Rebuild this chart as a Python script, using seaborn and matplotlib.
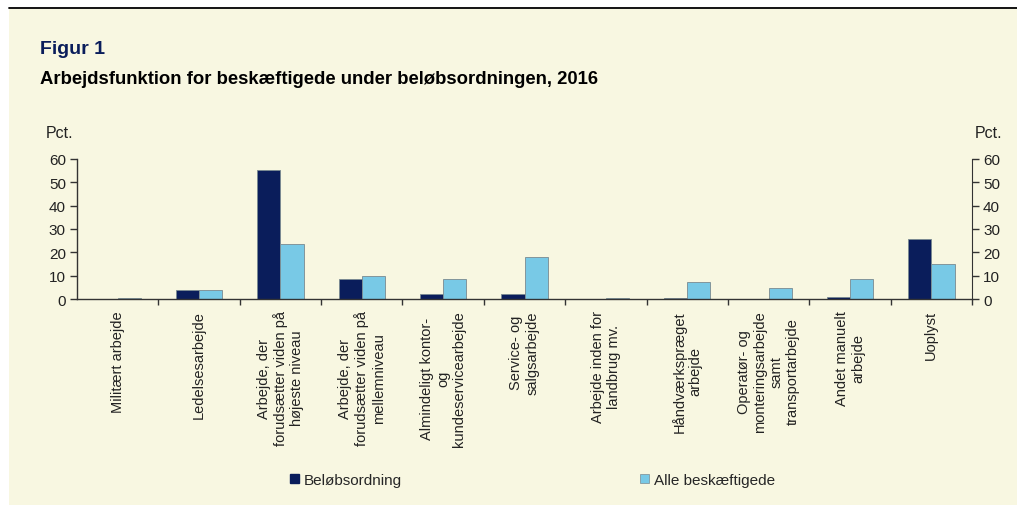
import matplotlib
matplotlib.use("Agg")
import matplotlib.pyplot as plt
import matplotlib.patches as mpatches
import pandas as pd
import seaborn as sns

categories = [
    "Militært arbejde",
    "Ledelsesarbejde",
    "Arbejde, der\nforudsætter viden på\nhøjeste niveau",
    "Arbejde, der\nforudsætter viden på\nmellemniveau",
    "Almindeligt kontor-\nog\nkundeservicearbejde",
    "Service- og\nsalgsarbejde",
    "Arbejde inden for\nlandbrug mv.",
    "Håndværkspræget\narbejde",
    "Operatør- og\nmonteringsarbejde\nsamt\ntransportarbejde",
    "Andet manuelt\narbejde",
    "Uoplyst",
]
belob = [0.0, 4.0, 55.3, 8.4, 2.0, 2.0, 0.0, 0.6, 0.0, 1.0, 25.7]
alle = [0.5, 3.9, 23.6, 9.7, 8.5, 18.0, 0.4, 7.3, 4.9, 8.7, 14.8]
series = ["Beløbsordning", "Alle beskæftigede"]
yticks = [0, 10, 20, 30, 40, 50, 60]

cream = "#F8F7E1"
navy = "#0A1D5B"
lightblue = "#78C9E6"

df = pd.DataFrame({
    "kategori": categories * 2,
    "pct": belob + alle,
    "serie": [series[0]] * len(categories) + [series[1]] * len(categories),
})

sns.set_style("white")
plt.rcParams["font.family"] = ["Liberation Sans", "DejaVu Sans"]

fig = plt.figure(figsize=(10.17, 5.06), dpi=100)
fig.patch.set_facecolor("white")

# cream panel and black rule on top
fig.patches.append(mpatches.Rectangle((9 / 1017, 0), 1 - 9 / 1017, 1 - 10 / 506,
                                      transform=fig.transFigure, facecolor=cream,
                                      edgecolor="none", zorder=-1))
fig.add_artist(plt.Line2D([9 / 1017, 1], [1 - 9 / 506, 1 - 9 / 506],
                          transform=fig.transFigure, color="black", lw=1.3))

ax = fig.add_axes([77 / 1017, 1 - 300 / 506, (972 - 77) / 1017, 140 / 506])
ax.set_facecolor(cream)

sns.barplot(data=df, x="kategori", y="pct", hue="serie", hue_order=series,
            palette=[navy, lightblue], width=0.57, ax=ax, legend=False,
            saturation=1, edgecolor="#7a8a90", linewidth=0.6)

ax.set_ylim(0, 60)
ax.set_xlim(-0.5, len(categories) - 0.5)
ax.set_yticks(yticks)
ax.set_xlabel("")
ax.set_ylabel("")
for s in ["top", "right"]:
    ax.spines[s].set_visible(False)
for s in ["left", "bottom"]:
    ax.spines[s].set_color("#333333")
    ax.spines[s].set_linewidth(1.0)

ax.tick_params(axis="y", direction="out", length=5, width=1, color="#333333",
               labelsize=11, labelcolor="#222222", pad=3, left=True)
# x ticks at category boundaries
ax.set_xticks([i + 0.5 for i in range(len(categories))])
ax.set_xticklabels([])
ax.tick_params(axis="x", which="major", direction="out", length=4, width=1,
               color="#333333", bottom=True)
ax.set_xticks(range(len(categories)), minor=True)
ax.set_xticklabels(categories, minor=True, rotation=90, fontsize=10.5,
                   color="#222222", ha="center", va="top", multialignment="center")
ax.tick_params(axis="x", which="minor", length=0, pad=8)

ax2 = ax.twinx()
ax2.set_ylim(0, 60)
ax2.set_yticks(yticks)
for s in ["top", "left", "bottom"]:
    ax2.spines[s].set_visible(False)
ax2.spines["right"].set_color("#333333")
ax2.tick_params(axis="y", direction="out", length=5, width=1, color="#333333",
                labelsize=11, labelcolor="#222222", pad=3, right=True)

fig.text(46 / 1017, 1 - 133 / 506, "Pct.", fontsize=11.5, color="#222222", va="center")
fig.text(975 / 1017, 1 - 133 / 506, "Pct.", fontsize=11.5, color="#222222", va="center")

fig.text(40 / 1017, 1 - 50 / 506, "Figur 1", fontsize=14, fontweight="bold",
         color="#0A1D5B", va="center")
fig.text(40 / 1017, 1 - 80 / 506, "Arbejdsfunktion for beskæftigede under beløbsordningen, 2016",
         fontsize=13.3, fontweight="bold", color="black", va="center")

handles = [mpatches.Patch(facecolor=navy, edgecolor=navy),
           mpatches.Patch(facecolor=lightblue, edgecolor="#7a8a90", linewidth=0.5)]
fig.legend(handles, series, loc="center left", bbox_to_anchor=(290 / 1017, 1 - 481 / 506),
           ncol=2, frameon=False, fontsize=11, handlelength=0.6, handleheight=0.6,
           handletextpad=0.3, columnspacing=15.6, borderaxespad=0, borderpad=0)

fig.savefig("out.png", dpi=100, facecolor=fig.get_facecolor())
